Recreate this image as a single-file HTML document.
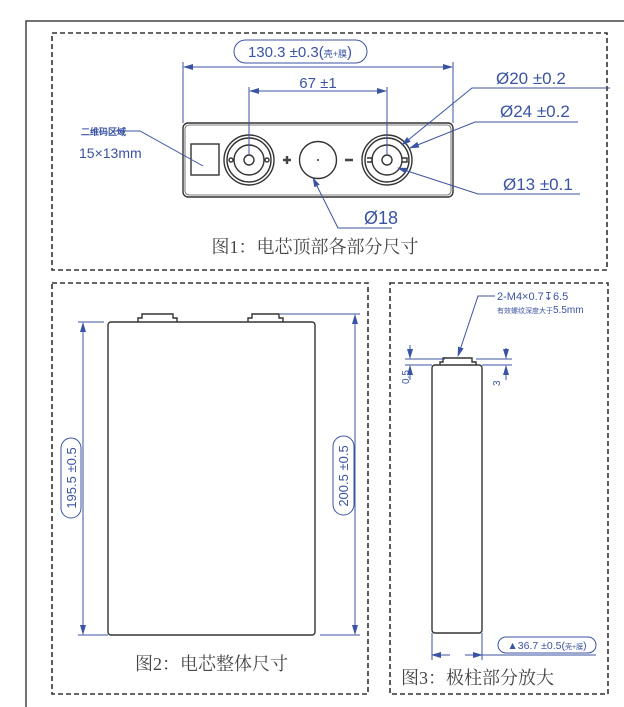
<!DOCTYPE html>
<html><head><meta charset="utf-8"><style>
html,body{margin:0;padding:0;background:#fff;}
svg{display:block;}
.b{stroke:#3b53a3;stroke-width:1;fill:none;}
.k{stroke:#333;stroke-width:1.4;fill:none;}
.d{stroke:#333;stroke-width:1.6;fill:none;stroke-dasharray:5,3;}
.t{font-family:"Liberation Sans Narrow","Liberation Sans",sans-serif;fill:#3b53a3;}
.c{font-family:"Liberation Serif","Noto Serif CJK SC",serif;fill:#444;font-size:18px;}
</style></head><body>
<svg width="624" height="707" viewBox="0 0 624 707" xmlns="http://www.w3.org/2000/svg">
<defs>
<marker id="a" markerWidth="10" markerHeight="6" refX="9" refY="3" orient="auto" markerUnits="userSpaceOnUse"><path d="M0,0 L10,3 L0,6z" fill="#3b53a3"/></marker>
<marker id="s" markerWidth="10" markerHeight="6" refX="1" refY="3" orient="auto" markerUnits="userSpaceOnUse"><path d="M10,0 L0,3 L10,6z" fill="#3b53a3"/></marker>
</defs>
<path d="M26,707 V21 H624" stroke="#444" stroke-width="1.5" fill="none"/>
<rect class="d" x="52" y="33" width="555" height="237"/>
<rect class="d" x="52" y="283" width="316" height="411"/>
<rect class="d" x="390" y="283" width="218" height="411"/>

<!-- FIG1 -->
<rect class="k" x="183" y="123" width="270" height="74" rx="5"/>
<rect x="185" y="125" width="266" height="70" rx="4" fill="none" stroke="#555" stroke-width="0.8"/>
<rect class="k" x="191" y="144" width="28" height="31"/>
<g class="k">
<circle cx="249" cy="160" r="25"/><circle cx="249" cy="160" r="22"/><circle cx="249" cy="160" r="15"/><circle cx="249" cy="160" r="5"/>
<circle cx="231" cy="160" r="2"/><circle cx="267" cy="160" r="2"/>
<circle cx="318" cy="160" r="18.5"/>
<circle cx="387" cy="160" r="25"/><circle cx="387" cy="160" r="22"/><circle cx="387" cy="160" r="15"/><circle cx="387" cy="160" r="5"/>
<path d="M367,158h5v4h-5M402,158h5v4h-5"/>
</g>
<circle cx="318" cy="160" r="1" fill="#333"/>
<path d="M283,160h8M287,156v8M345,160h8" stroke="#444" stroke-width="2.4"/>
<!-- dims -->
<path class="b" d="M183,123V62M453,123V62M249,155V87M387,155V87"/>
<path class="b" d="M184,67H452" marker-start="url(#s)" marker-end="url(#a)"/>
<path class="b" d="M250,91H386" marker-start="url(#s)" marker-end="url(#a)"/>
<rect x="234" y="40" width="133" height="23" rx="11.5" class="b" style="fill:#fff"/>
<text class="t" x="300" y="57" font-size="15" text-anchor="middle">130.3 ±0.3(<tspan font-size="9">壳+膜</tspan>)</text>
<rect x="295" y="74" width="48" height="16" fill="#fff"/>
<text class="t" x="318" y="88" font-size="15" text-anchor="middle">67 ±1</text>
<path class="b" d="M610,88H472L402,145" marker-end="url(#a)"/>
<text class="t" x="496" y="84" font-size="17">Ø20 ±0.2</text>
<path class="b" d="M578,122H475L410,148" marker-end="url(#a)"/>
<text class="t" x="500" y="117" font-size="17">Ø24 ±0.2</text>
<path class="b" d="M580,194H478L398,168" marker-end="url(#a)"/>
<text class="t" x="503" y="190" font-size="17">Ø13 ±0.1</text>
<path class="b" d="M392,228H338L313,178" marker-end="url(#a)"/>
<text class="t" x="364" y="224" font-size="18">Ø18</text>
<path class="b" d="M112,131H140L203,166"/>
<text class="t" x="81" y="135" font-size="9" font-weight="bold" font-family="Noto Sans CJK SC,sans-serif">二维码区域</text>
<text class="t" x="79" y="158" font-size="14">15×13mm</text>
<text class="c" x="315" y="253" text-anchor="middle">图1：电芯顶部各部分尺寸</text>

<!-- FIG2 -->
<rect class="k" x="108" y="322" width="207" height="313" rx="3"/>
<path class="k" d="M138,322v-4h4v-4h31v4h4v4M248,322v-4h4v-4h27v4h4v4" stroke-width="1"/>
<path class="b" d="M78,322H104M78,635H108M280,314H360M320,635H360"/>
<path class="b" d="M83,323V634" marker-start="url(#s)" marker-end="url(#a)"/>
<path class="b" d="M355,315V634" marker-start="url(#s)" marker-end="url(#a)"/>
<rect x="61" y="438" width="20" height="80" rx="10" class="b" style="fill:#fff"/>
<rect x="333" y="436" width="21" height="79" rx="10.5" class="b" style="fill:#fff"/>
<text class="t" font-size="13" transform="translate(76,478) rotate(-90)" text-anchor="middle">195.5 ±0.5</text>
<text class="t" font-size="13" transform="translate(348,476) rotate(-90)" text-anchor="middle">200.5 ±0.5</text>
<text class="c" x="135" y="670">图2：电芯整体尺寸</text>

<!-- FIG3 -->
<rect class="k" x="432" y="365" width="50" height="268" rx="3"/>
<path class="k" d="M440,365v-3h3v-4h29v4h4v3" stroke-width="1"/>
<path class="b" d="M405,359H445M405,365H432M476,359H512M482,365H512"/>
<path class="b" d="M410,345V358" marker-end="url(#a)"/><path class="b" d="M410,380V366" marker-end="url(#a)"/>
<path class="b" d="M506,348V358" marker-end="url(#a)"/><path class="b" d="M506,380V366" marker-end="url(#a)"/>
<text class="t" font-size="10" transform="translate(409,384) rotate(-90)">0.5</text>
<text class="t" font-size="10" transform="translate(500,386) rotate(-90)">3</text>
<path class="b" d="M495,296H478L458,356" marker-end="url(#a)"/>
<text class="t" x="497" y="300" font-size="11">2-M4×0.7↧6.5</text>
<text class="t" x="497" y="313" font-size="7" font-family="Noto Sans CJK SC,sans-serif">有效螺纹深度大于<tspan font-size="10" font-family="Liberation Sans">5.5mm</tspan></text>
<path class="b" d="M432,633V660M482,633V660"/>
<path class="b" d="M450,655H432" marker-end="url(#a)"/><path class="b" d="M465,655H482" marker-end="url(#a)"/>
<path class="b" d="M482,655H596"/>
<rect x="498" y="637" width="98" height="16" rx="8" class="b" style="fill:#fff"/>
<text class="t" x="547" y="649" font-size="10.5" text-anchor="middle">▲36.7 ±0.5(<tspan font-size="7">壳+膜</tspan>)</text>
<text class="c" x="401" y="684">图3：极柱部分放大</text>
</svg>
</body></html>
